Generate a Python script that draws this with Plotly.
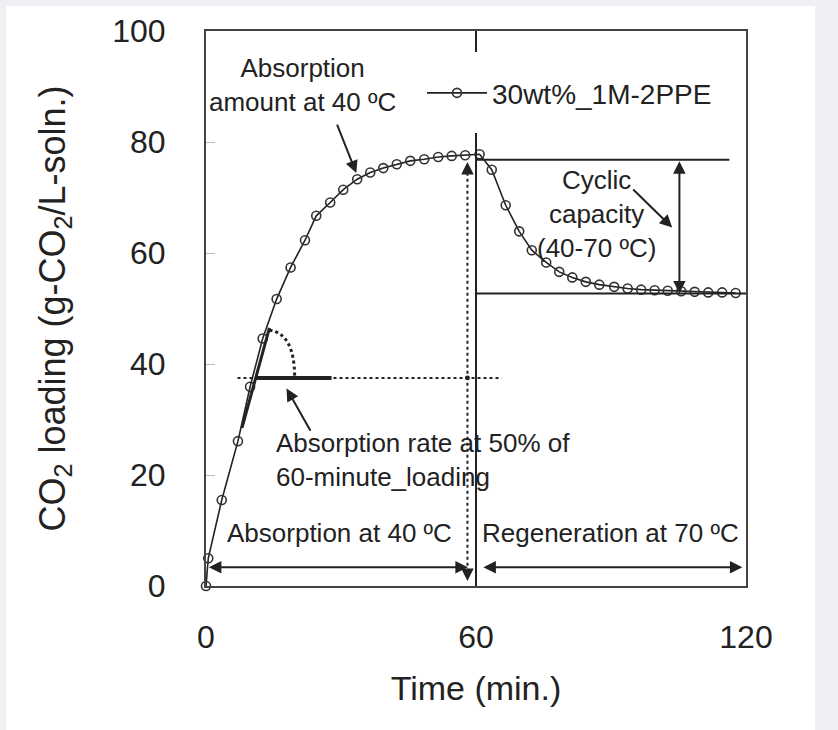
import plotly.graph_objects as go

# ---- data ----
time_min = [0, 0.5, 3.5, 7.1, 9.8, 12.6, 15.7, 18.8, 22.0, 24.5, 27.6, 30.5, 33.6, 36.5, 39.4,
            42.4, 45.4, 48.5, 51.6, 54.6, 57.6, 60.8, 63.5, 66.6, 69.6, 72.4, 75.6, 78.5, 81.4,
            84.4, 87.4, 90.7, 93.7, 96.7, 99.7, 102.6, 105.6, 108.6, 111.6, 114.7, 117.7]
co2_loading = [0, 5.0, 15.5, 26.1, 35.9, 44.6, 51.7, 57.4, 62.3, 66.7, 69.1, 71.4, 73.3, 74.5, 75.3,
               76.0, 76.6, 76.9, 77.3, 77.5, 77.6, 77.8, 75.0, 68.6, 63.9, 60.5, 58.3, 56.6, 55.6,
               54.8, 54.3, 53.9, 53.6, 53.4, 53.3, 53.2, 53.1, 53.0, 52.9, 52.9, 52.8]
series_name = "30wt%_1M-2PPE"
x_ticks = [0, 60, 120]
y_ticks = [0, 20, 40, 60, 80, 100]

FONT = "Liberation Sans, Arial, sans-serif"
INK = "#222222"
AX = "#444444"
ann_size = 26

fig = go.Figure()
fig.add_trace(go.Scatter(
    x=time_min, y=co2_loading, mode="lines+markers", name=series_name,
    line=dict(color=INK, width=1.6),
    marker=dict(symbol="circle-open", size=9, color="#333333", line=dict(width=1.6, color="#333333")),
    cliponaxis=False,
))

shapes = [
    # white panel behind everything
    dict(type="rect", xref="paper", yref="paper", x0=-0.37, x1=1.128, y0=-0.26, y1=1.045,
         fillcolor="white", line=dict(width=0), layer="below"),
    # switch line at 60 min
    dict(type="line", x0=60, x1=60, y0=0, y1=81.6, line=dict(color=INK, width=2)),
    # cyclic capacity reference lines
    dict(type="line", x0=60, x1=116.3, y0=76.8, y1=76.8, line=dict(color=INK, width=2)),
    dict(type="line", x0=60, x1=120.3, y0=52.7, y1=52.7, line=dict(color=INK, width=2)),
    # dotted vertical at 60-minute loading
    dict(type="line", x0=58.1, x1=58.1, y0=1.5, y1=75, line=dict(color=INK, width=2, dash="dot")),
    # dotted horizontal at 50 % loading
    dict(type="line", x0=7, x1=65.7, y0=37.5, y1=37.5, line=dict(color=INK, width=2, dash="dot")),
    # thick horizontal segment
    dict(type="line", x0=11.2, x1=27.9, y0=37.5, y1=37.5, line=dict(color=INK, width=4)),
    # tangent line
    dict(type="line", x0=8.0, x1=14.1, y0=28.5, y1=46.5, line=dict(color=INK, width=3)),
    # dotted angle arc
    dict(type="path", path="M 14.1,46.1 Q 19.6,45.5 19.7,37.8", line=dict(color=INK, width=3, dash="dot")),
    # small dot at crossing
    dict(type="circle", x0=57.55, x1=58.65, y0=37.05, y1=37.95, fillcolor=INK, line=dict(width=0)),
]

def arrow(x, y, ax, ay, both=False):
    d = dict(x=x, y=y, ax=ax, ay=ay, xref="x", yref="y", axref="x", ayref="y", text="",
             showarrow=True, arrowhead=2, arrowsize=1.25, arrowwidth=2, arrowcolor=INK, standoff=0)
    if both:
        d.update(arrowside="end+start", startarrowhead=2, startarrowsize=1.25, startstandoff=0)
    return d

def label(x, y, text, xanchor="center", align="center"):
    return dict(x=x, y=y, xref="x", yref="y", text=text, showarrow=False, xanchor=xanchor,
                yanchor="middle", align=align, font=dict(family=FONT, size=ann_size, color=INK))

annotations = [
    label(21.4, 90.3, "Absorption<br>amount at 40 ºC"),
    arrow(33.4, 74.4, 29.0, 83.4),
    label(86.8, 67.0, "Cyclic<br>capacity<br>(40-70 ºC)"),
    arrow(103.6, 64.6, 94.6, 71.7),
    arrow(105.2, 52.7, 105.2, 76.8, both=True),
    arrow(58.1, 76.4, 58.1, 74.0),
    arrow(58.1, 0.9, 58.1, 3.0),
    label(15.0, 22.7, "Absorption rate at 50% of<br>60-minute_loading", xanchor="left", align="left"),
    arrow(17.9, 35.6, 23.4, 27.7),
    arrow(58.2, 3.4, 0.3, 3.4, both=True),
    label(29.7, 9.6, "Absorption at 40 ºC"),
    arrow(119.2, 3.4, 61.3, 3.4, both=True),
    label(89.9, 9.6, "Regeneration at 70 ºC"),
]

fig.update_layout(
    width=838, height=730,
    margin=dict(l=206, r=92, t=31, b=144),
    paper_bgcolor="#eef0f3", plot_bgcolor="white",
    font=dict(family=FONT, size=32, color=INK),
    shapes=shapes, annotations=annotations,
    showlegend=True,
    legend=dict(x=0.40, y=0.888, xanchor="left", yanchor="middle", bgcolor="rgba(0,0,0,0)",
                font=dict(family=FONT, size=28, color=INK), itemwidth=60),
)
fig.update_xaxes(
    range=[0, 120], tickvals=x_ticks, ticks="inside", ticklen=21, tickwidth=2, tickcolor=INK,
    showline=True, linecolor=AX, linewidth=2, mirror="ticks", showgrid=False, zeroline=False,
    ticklabelstandoff=22, tickfont=dict(size=32),
    title=dict(text="Time (min.)", standoff=22, font=dict(size=34)),
)
fig.update_yaxes(
    range=[0, 100], tickvals=y_ticks, ticks="inside", ticklen=9, tickwidth=1, tickcolor="#bbbbbb",
    showline=True, linecolor=AX, linewidth=2, mirror=True, showgrid=False, zeroline=False,
    ticklabelstandoff=32, tickfont=dict(size=32),
    title=dict(text="CO<sub>2</sub> loading (g-CO<sub>2</sub>/L-soln.)", standoff=36, font=dict(size=36)),
)

fig.write_html(
    "out.html",
    config={"displayModeBar": False},
    post_script="document.body.style.margin='0';document.body.style.background='#eef0f3';",
)
